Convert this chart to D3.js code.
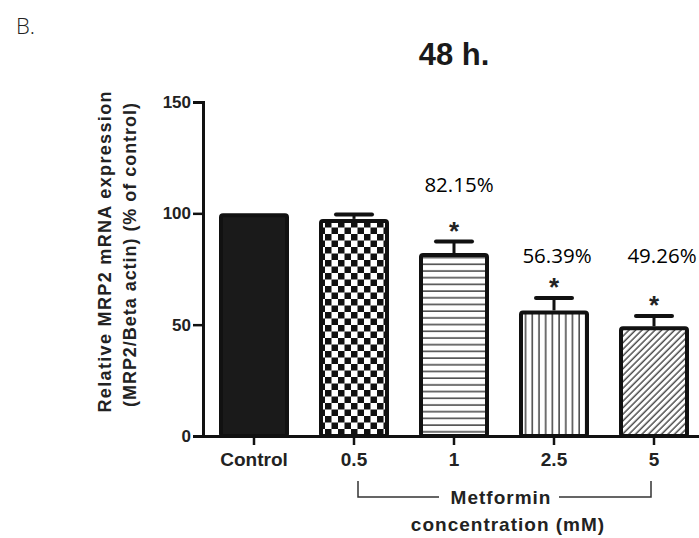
<!DOCTYPE html>
<html>
<head>
<meta charset="utf-8">
<script src="https://cdn.jsdelivr.net/npm/d3@7"></script>
<style>
  body { margin: 0; background: #fff; }
  svg { display: block; }
</style>
</head>
<body>
<div id="chart"></div>
<script>
// Data
const categories = ['Control', '0.5', '1', '2.5', '5'];
const means = [100, 97.5, 82.15, 56.39, 49.26];
const sems = [0, 2, 5.2, 5.6, 4.6];
const significant = [false, false, true, true, true];
const pctLabels = ['', '', '82.15%', '56.39%', '49.26%'];
const fills = ['solid', 'checker', 'hlines', 'vlines', 'diag'];
const yTicks = [0, 50, 100, 150];

const W = 699, H = 538;
const svg = d3.select('#chart').append('svg')
  .attr('width', W)
  .attr('height', H);

const defs = svg.append('defs');

// checkerboard
const chk = defs.append('pattern')
  .attr('id', 'checker')
  .attr('patternUnits', 'userSpaceOnUse')
  .attr('width', 13).attr('height', 13);
chk.append('rect').attr('width', 13).attr('height', 13).attr('fill', '#fff');
chk.append('rect').attr('width', 6.5).attr('height', 6.5).attr('fill', '#111');
chk.append('rect').attr('x', 6.5).attr('y', 6.5).attr('width', 6.5).attr('height', 6.5).attr('fill', '#111');

// horizontal lines
const hl = defs.append('pattern')
  .attr('id', 'hlines')
  .attr('patternUnits', 'userSpaceOnUse')
  .attr('width', 10).attr('height', 6.7);
hl.append('rect').attr('width', 10).attr('height', 6.7).attr('fill', '#fff');
hl.append('line').attr('x1', 0).attr('x2', 10).attr('y1', 3).attr('y2', 3)
  .attr('stroke', '#333').attr('stroke-width', 1.4);

// vertical lines
const vl = defs.append('pattern')
  .attr('id', 'vlines')
  .attr('patternUnits', 'userSpaceOnUse')
  .attr('width', 6.7).attr('height', 10);
vl.append('rect').attr('width', 6.7).attr('height', 10).attr('fill', '#fff');
vl.append('line').attr('x1', 3).attr('x2', 3).attr('y1', 0).attr('y2', 10)
  .attr('stroke', '#333').attr('stroke-width', 1.4);

// diagonal lines
const dg = defs.append('pattern')
  .attr('id', 'diag')
  .attr('patternUnits', 'userSpaceOnUse')
  .attr('width', 4.6).attr('height', 10)
  .attr('patternTransform', 'rotate(45)');
dg.append('rect').attr('width', 4.6).attr('height', 10).attr('fill', '#fff');
dg.append('line').attr('x1', 2).attr('x2', 2).attr('y1', 0).attr('y2', 10)
  .attr('stroke', '#333').attr('stroke-width', 1.3);

// Scales
const x = d3.scaleBand()
  .domain(categories)
  .range([203, 705])
  .paddingInner(0.3)
  .paddingOuter(0.16);

const y = d3.scaleLinear()
  .domain([0, 150])
  .range([436, 102]);

const data = categories.map((c, i) => ({
  cat: c, mean: means[i], sem: sems[i], sig: significant[i], pct: pctLabels[i], fill: fills[i]
}));

const arial = 'Liberation Sans, Arial, sans-serif';

// "B." label
svg.append('text')
  .attr('x', 16).attr('y', 34)
  .attr('font-family', 'Open Sans, sans-serif')
  .attr('font-weight', 300)
  .attr('font-size', 22)
  .attr('fill', '#222')
  .text('B.');

// Title
svg.append('text')
  .attr('x', 454).attr('y', 65)
  .attr('text-anchor', 'middle')
  .attr('font-family', arial)
  .attr('font-weight', 'bold')
  .attr('font-size', 31)
  .attr('fill', '#1a1a1a')
  .text('48 h.');

// Error bars (drawn first so the bars cover the stem)
const eb = svg.append('g').selectAll('g')
  .data(data.filter(d => d.sem > 0))
  .join('g');
eb.append('line')
  .attr('x1', d => x(d.cat) + x.bandwidth() / 2)
  .attr('x2', d => x(d.cat) + x.bandwidth() / 2)
  .attr('y1', d => y(d.mean))
  .attr('y2', d => y(d.mean + d.sem))
  .attr('stroke', '#111').attr('stroke-width', 3);
eb.append('line')
  .attr('x1', d => x(d.cat) + x.bandwidth() / 2 - 18)
  .attr('x2', d => x(d.cat) + x.bandwidth() / 2 + 18)
  .attr('y1', d => y(d.mean + d.sem))
  .attr('y2', d => y(d.mean + d.sem))
  .attr('stroke', '#111').attr('stroke-width', 4)
  .attr('stroke-linecap', 'round');

// Bars
svg.append('g').selectAll('rect')
  .data(data)
  .join('rect')
  .attr('x', d => x(d.cat) + 2)
  .attr('y', d => y(d.mean) + 2)
  .attr('width', x.bandwidth() - 4)
  .attr('height', d => y(0) - y(d.mean) - 2)
  .attr('rx', 2)
  .attr('fill', d => d.fill === 'solid' ? '#1a1a1a' : `url(#${d.fill})`)
  .attr('stroke', '#111')
  .attr('stroke-width', 4);

// Asterisks
svg.append('g').selectAll('text')
  .data(data.filter(d => d.sig))
  .join('text')
  .attr('x', d => x(d.cat) + x.bandwidth() / 2)
  .attr('y', d => y(d.mean + d.sem) - 2)
  .attr('text-anchor', 'middle')
  .attr('font-family', arial)
  .attr('font-weight', 'bold')
  .attr('font-size', 26)
  .attr('fill', '#222')
  .text('*');

// Percent labels
svg.append('g').selectAll('text')
  .data(data.filter(d => d.pct))
  .join('text')
  .attr('x', (d, i) => x(d.cat) + x.bandwidth() / 2 + (i === 0 ? 5 : (i === 1 ? 3 : 8)))
  .attr('y', (d, i) => i === 0 ? 192 : 263)
  .attr('text-anchor', 'middle')
  .attr('font-family', 'Open Sans, sans-serif')
  .attr('font-size', 20.5)
  .attr('fill', '#000')
  .text(d => d.pct);

// Y axis
const yAxis = svg.append('g')
  .attr('transform', 'translate(203,0)')
  .call(d3.axisLeft(y).tickValues(yTicks).tickSize(10).tickPadding(2));
yAxis.select('.domain').attr('stroke', '#111').attr('stroke-width', 3);
yAxis.selectAll('.tick line').attr('stroke', '#111').attr('stroke-width', 2.5);
yAxis.selectAll('.tick text')
  .attr('font-family', arial)
  .attr('font-weight', 'bold')
  .attr('font-size', 17)
  .attr('fill', '#222');

// X axis
const xAxis = svg.append('g')
  .attr('transform', 'translate(0,436)')
  .call(d3.axisBottom(x).tickSize(9).tickSizeOuter(0).tickPadding(8));
xAxis.select('.domain').attr('stroke', '#111').attr('stroke-width', 3);
xAxis.selectAll('.tick line').attr('stroke', '#111').attr('stroke-width', 2.5);
xAxis.selectAll('.tick text')
  .attr('font-family', arial)
  .attr('font-weight', 'bold')
  .attr('font-size', 19)
  .attr('fill', '#222');

// Y axis title
const yt = svg.append('g')
  .attr('font-family', arial)
  .attr('font-weight', 'bold')
  .attr('font-size', 18)
  .attr('fill', '#222')
  .attr('text-anchor', 'middle');
yt.append('text')
  .attr('transform', 'translate(111,252) rotate(-90)')
  .attr('textLength', 321)
  .attr('lengthAdjust', 'spacing')
  .text('Relative MRP2 mRNA expression');
yt.append('text')
  .attr('transform', 'translate(136,255) rotate(-90)')
  .attr('textLength', 304)
  .attr('lengthAdjust', 'spacing')
  .text('(MRP2/Beta actin) (% of control)');

// Metformin bracket
const bx0 = x('0.5') + x.bandwidth() / 2 + 4;
const bx1 = x('5') + x.bandwidth() / 2 - 3;
const bracket = svg.append('g')
  .attr('stroke', '#333').attr('stroke-width', 1.5).attr('fill', 'none');
bracket.append('path').attr('d', `M${bx0},481V497H439`);
bracket.append('path').attr('d', `M559,497H${bx1}V481`);

svg.append('text')
  .attr('x', 501).attr('y', 504)
  .attr('text-anchor', 'middle')
  .attr('font-family', arial)
  .attr('font-weight', 'bold')
  .attr('font-size', 19)
  .attr('fill', '#222')
  .attr('letter-spacing', 1)
  .text('Metformin');
svg.append('text')
  .attr('x', 508).attr('y', 531)
  .attr('text-anchor', 'middle')
  .attr('font-family', arial)
  .attr('font-weight', 'bold')
  .attr('font-size', 19)
  .attr('fill', '#222')
  .attr('letter-spacing', 1)
  .text('concentration (mM)');
</script>
</body>
</html>
